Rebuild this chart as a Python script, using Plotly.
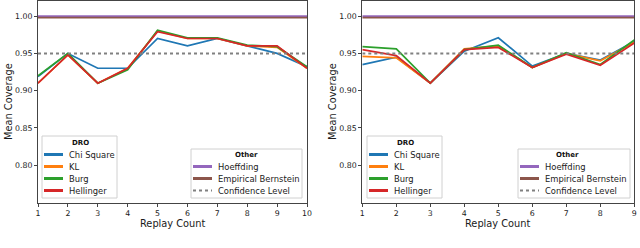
import plotly.graph_objects as go

# ---- data ----
replay_left = [1, 2, 3, 4, 5, 6, 7, 8, 9, 10]
chi_left = [0.919, 0.950, 0.930, 0.930, 0.970, 0.960, 0.970, 0.960, 0.950, 0.932]
kl_left = [0.910, 0.948, 0.910, 0.930, 0.980, 0.970, 0.970, 0.960, 0.958, 0.930]
burg_left = [0.920, 0.950, 0.910, 0.928, 0.981, 0.971, 0.971, 0.961, 0.959, 0.932]
hel_left = [0.910, 0.948, 0.910, 0.930, 0.979, 0.970, 0.970, 0.960, 0.960, 0.930]

replay_right = [1, 2, 3, 4, 5, 6, 7, 8, 9]
chi_right = [0.935, 0.945, 0.910, 0.953, 0.971, 0.933, 0.950, 0.941, 0.966]
kl_right = [0.946, 0.944, 0.910, 0.956, 0.960, 0.931, 0.950, 0.940, 0.965]
burg_right = [0.959, 0.956, 0.910, 0.955, 0.961, 0.931, 0.951, 0.935, 0.968]
hel_right = [0.955, 0.947, 0.910, 0.955, 0.958, 0.931, 0.949, 0.934, 0.964]

hoeffding = 1.0
bernstein = 0.998
confidence = 0.95

y_ticks = [0.80, 0.85, 0.90, 0.95, 1.00]
dro_names = ["Chi Square", "KL", "Burg", "Hellinger"]
other_names = ["Hoeffding", "Empirical Bernstein", "Confidence Level"]
x_title = "Replay Count"
y_title = "Mean Coverage"

COL = {"Chi Square": "#1f77b4", "KL": "#ff7f0e", "Burg": "#2ca02c", "Hellinger": "#d62728",
       "Hoeffding": "#9467bd", "Empirical Bernstein": "#8c564b", "Confidence Level": "#808080"}
DASH = {"Confidence Level": "dot"}
WID = {"Hoeffding": 2.0, "Empirical Bernstein": 1.8, "Confidence Level": 2.0}
FONT = "DejaVu Sans"
W, H = 640, 248

fig = go.Figure()

panels = [
    ("x", "y", replay_left, [chi_left, kl_left, burg_left, hel_left]),
    ("x2", "y2", replay_right, [chi_right, kl_right, burg_right, hel_right]),
]
for xa, ya, xs, series in panels:
    for nm, vals in zip(dro_names, series):
        fig.add_trace(go.Scatter(x=xs, y=vals, mode="lines", name=nm, xaxis=xa, yaxis=ya,
                                 line=dict(color=COL[nm], width=1.7)))
    for nm, val in zip(other_names, [hoeffding, bernstein, confidence]):
        fig.add_trace(go.Scatter(x=[xs[0], xs[-1]], y=[val, val], mode="lines", name=nm,
                                 xaxis=xa, yaxis=ya,
                                 line=dict(color=COL[nm], width=WID[nm], dash=DASH.get(nm, "solid"))))

axis_common = dict(showgrid=False, zeroline=False, showline=True, mirror=True, linecolor="#444",
                   linewidth=1, ticks="outside", ticklen=3, tickcolor="#444", automargin=False,
                   tickfont=dict(family=FONT, size=7.8, color="#1a1a1a"))
yt = dict(text=y_title, font=dict(size=9.8), standoff=0)

fig.update_layout(
    width=W, height=H, margin=dict(l=0, r=0, t=0, b=0),
    plot_bgcolor="white", paper_bgcolor="white",
    font=dict(family=FONT, color="#1a1a1a"),
    showlegend=False,
    xaxis=dict(domain=[38/W, 307/W], range=[1, 10], dtick=1, anchor="y", **axis_common),
    yaxis=dict(domain=[1-202.7/H, 1-0.5/H], range=[0.7495, 1.021], tickvals=y_ticks, tickformat=".2f",
               anchor="x", title=yt, **axis_common),
    xaxis2=dict(domain=[362.3/W, 634.3/W], range=[1, 9], dtick=1, anchor="y2", **axis_common),
    yaxis2=dict(domain=[1-202.7/H, 1-0.5/H], range=[0.7495, 1.021], tickvals=y_ticks, tickformat=".2f",
                anchor="x2", title=yt, **axis_common),
)

def px(x):
    return x / W

def py(y):
    return 1 - y / H

# x axis titles, centred under each panel
for cx in [(38 + 307) / 2, (362.3 + 634.3) / 2]:
    fig.add_annotation(xref="paper", yref="paper", x=px(cx), y=py(223), text=x_title, showarrow=False,
                       xanchor="center", yanchor="middle", font=dict(family=FONT, size=9.8, color="#1a1a1a"))

# ---- manual matplotlib-style legends (pixel layout) ----
def add_legend(box, title, title_x, title_y, names, rows_y, line_x0, line_x1, text_x):
    x0, y0, x1, y1 = box
    fig.add_shape(type="rect", xref="paper", yref="paper", x0=px(x0), x1=px(x1), y0=py(y1), y1=py(y0),
                  line=dict(color="#d0d0d0", width=1), fillcolor="rgba(255,255,255,0.8)", layer="above")
    fig.add_annotation(xref="paper", yref="paper", x=px(title_x), y=py(title_y), text="<b>" + title + "</b>",
                       showarrow=False, xanchor="center", yanchor="middle",
                       font=dict(family=FONT, size=7, color="#111"))
    for nm, ry in zip(names, rows_y):
        fig.add_shape(type="line", xref="paper", yref="paper", x0=px(line_x0), x1=px(line_x1),
                      y0=py(ry), y1=py(ry), layer="above",
                      line=dict(color=COL[nm], width=3 if nm != "Confidence Level" else 2,
                                dash=DASH.get(nm, "solid")))
        fig.add_annotation(xref="paper", yref="paper", x=px(text_x), y=py(ry), text=nm,
                           showarrow=False, xanchor="left", yanchor="middle",
                           font=dict(family=FONT, size=8.4, color="#1a1a1a"))

add_legend((42, 136, 117, 198), "DRO", 80, 143, dro_names, [154.5, 166.5, 178.5, 190.5], 44, 63, 67)
add_legend((191, 149, 302, 198), "Other", 246, 154.5, other_names, [166.5, 178.5, 190.5], 193, 212, 216)
add_legend((367, 136, 442, 198), "DRO", 405, 143, dro_names, [154.5, 166.5, 178.5, 190.5], 369, 388, 392)
add_legend((518, 149, 630, 198), "Other", 567, 154.5, other_names, [166.5, 178.5, 190.5], 520, 539, 543)

fig.write_html("out.html", config={"displayModeBar": False},
               post_script="document.body.style.margin='0';document.body.style.overflow='hidden';")
